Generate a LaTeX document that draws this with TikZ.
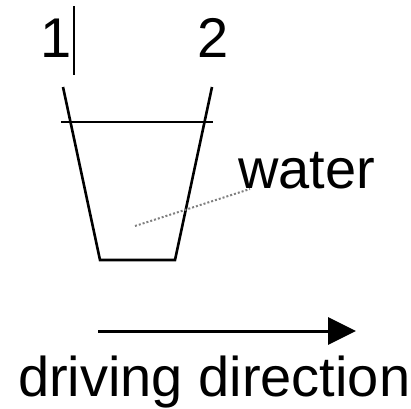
\documentclass[tikz,border=0pt]{standalone}
\usepackage{fontspec}
\setmainfont{Liberation Sans}
\usetikzlibrary{arrows.meta}
\begin{document}
\begin{tikzpicture}[x=1pt,y=-1pt,
  lbl/.style={inner sep=0pt,anchor=base west,font=\fontsize{56}{62}\selectfont},
  cupline/.style={line width=2.6pt,black},
  leader/.style={line width=2pt,gray,dotted}]
\useasboundingbox (0,0) rectangle (411,408);
% labels
\node[lbl] (one) at (40,57) {1};
\node[lbl] (two) at (197,57) {2};
\node[lbl] (water) at (238,188) {water};
\node[lbl] (dir) at (18,396) {driving direction};
% marker bar next to 1
\coordinate (bt) at (74,6);
\coordinate (bb) at (74,75);
\draw[line width=2.4pt] (bt) -- (bb);
% cup
\coordinate (tl) at (63,87);
\coordinate (bl) at (100,260);
\coordinate (br) at (175,260);
\coordinate (tr) at (212,87);
\draw[cupline,line join=miter] (tl) -- (bl) -- (br) -- (tr);
% water level
\coordinate (wl) at (61,122);
\coordinate (wr) at (213,122);
\draw[cupline] (wl) -- (wr);
% leader
\coordinate (lw) at (135,226);
\coordinate (le) at (250,189);
\draw[leader] (lw) -- (le);
% arrow
\coordinate (as) at (98,331);
\coordinate (ae) at (356,331);
\draw[line width=3pt,-{Triangle[length=28pt,width=27pt]}] (as) -- (ae);
\end{tikzpicture}
\end{document}
